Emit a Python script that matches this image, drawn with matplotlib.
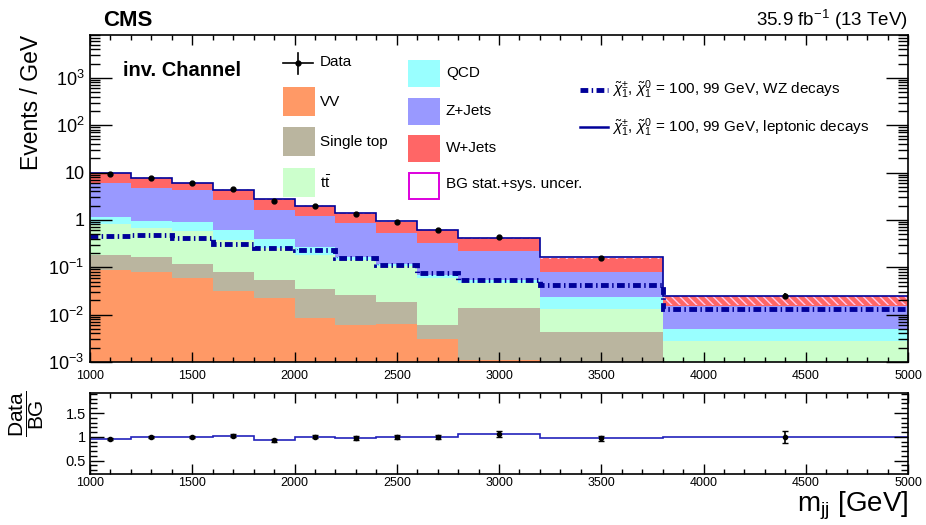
import numpy as np
import matplotlib
matplotlib.use("Agg")
import matplotlib.pyplot as plt
from matplotlib.patches import Rectangle
from matplotlib.lines import Line2D

plt.rcParams['font.family'] = ['Liberation Sans', 'DejaVu Sans']
plt.rcParams['mathtext.fontset'] = 'custom'
plt.rcParams['mathtext.rm'] = 'Liberation Sans'
plt.rcParams['mathtext.it'] = 'Liberation Sans:italic'
plt.rcParams['mathtext.bf'] = 'Liberation Sans:bold'
plt.rcParams['hatch.linewidth'] = 1.0

# ---- binning (m_jj, GeV) ----
bin_edges = [1000, 1200, 1400, 1600, 1800, 2000, 2200, 2400, 2600, 2800, 3200, 3800, 5000]

# ---- background processes, events / GeV ----
vv        = [0.088, 0.081, 0.059, 0.031, 0.022, 0.0084, 0.006, 0.0063, 0.003, 0.0011, 0.0008, 0.0001]
single_top = [0.092, 0.087, 0.061, 0.050, 0.032, 0.0256, 0.020, 0.0123, 0.003, 0.0126, 0.0035, 0.0002]
ttbar     = [0.63, 0.522, 0.45, 0.299, 0.196, 0.146, 0.117, 0.0884, 0.053, 0.0323, 0.0089, 0.0025]
qcd       = [0.34, 0.27, 0.33, 0.22, 0.15, 0.09, 0.025, 0.008, 0.010, 0.008, 0.0098, 0.0021]
zjets     = [4.85, 3.84, 3.40, 2.00, 1.18, 0.95, 0.682, 0.415, 0.251, 0.171, 0.058, 0.0106]
wjets     = [3.80, 2.90, 1.70, 1.70, 1.12, 0.78, 0.54, 0.39, 0.30, 0.185, 0.079, 0.0093]

# relative background uncertainty (down / up)
bg_unc_down = [0.02, 0.02, 0.02, 0.02, 0.02, 0.02, 0.02, 0.02, 0.02, 0.04, 0.05, 0.37]
bg_unc_up   = [0.02, 0.02, 0.02, 0.02, 0.02, 0.02, 0.02, 0.02, 0.02, 0.04, 0.05, 0.02]

# ---- data ----
data_x   = [1100, 1300, 1500, 1700, 1900, 2100, 2300, 2500, 2700, 3000, 3500, 4400]
data_y   = [9.41, 7.70, 6.00, 4.39, 2.51, 2.00, 1.35, 0.92, 0.62, 0.435, 0.155, 0.0248]
data_err = [0.19, 0.15, 0.15, 0.13, 0.08, 0.06, 0.05, 0.04, 0.03, 0.026, 0.008, 0.0032]

# ---- signals ----
signal_wz  = [0.45, 0.48, 0.41, 0.31, 0.25, 0.23, 0.16, 0.112, 0.075, 0.054, 0.042, 0.0132]
signal_lep = [0.05, 0.04, 0.03, 0.02, 0.012, 0.01, 0.007, 0.005, 0.003, 0.002, 0.0008, 0.0001]

process_names  = ['VV', 'Single top', r'$\mathrm{t\bar{t}}$', 'QCD', 'Z+Jets', 'W+Jets']
process_colors = ['#FF9966', '#BAB59F', '#CCFFCC', '#99FFFF', '#9999FF', '#FF6666']
processes = [vv, single_top, ttbar, qcd, zjets, wjets]

edges = np.array(bin_edges, dtype=float)
W, H = 926, 525
fig = plt.figure(figsize=(W / 100, H / 100), dpi=100)


def fx(px):
    return px / W


def fy(py):
    return 1 - py / H


ax = fig.add_axes([fx(90), fy(362), fx(908) - fx(90), fy(35) - fy(362)])
rax = fig.add_axes([fx(90), fy(474), fx(908) - fx(90), fy(393) - fy(474)])

navy = '#000099'

# stacked backgrounds
base = np.full(len(edges) - 1, 1e-5)
for vals, col in zip(processes, process_colors):
    top = base + np.array(vals)
    ax.stairs(top, edges, baseline=base, fill=True, color=col, lw=0)
    base = top
total = base

# background uncertainty band
ax.stairs(total * (1 + np.array(bg_unc_up)), edges,
          baseline=total * (1 - np.array(bg_unc_down)),
          fill=True, facecolor='none', edgecolor='#FFC8F0', hatch='\\\\\\\\', lw=0)

# signals
ax.stairs(total + np.array(signal_lep), edges, baseline=None, color=navy, lw=1.2)
ax.stairs(np.array(signal_wz), edges, baseline=None, color=navy, lw=3.5,
          linestyle=(0, (1.6, 0.7, 0.3, 0.7)))

# data
ax.errorbar(data_x, data_y, yerr=data_err, fmt='o', color='black', ms=3.5,
            elinewidth=1.2, capsize=0, zorder=5)

ax.set_yscale('log')
ax.set_xlim(1000, 5000)
ax.set_ylim(1e-3, 8000)

ytick_vals = [1e-3, 1e-2, 1e-1, 1, 10, 100, 1000]
ytick_labels = [r'$10^{-3}$', r'$10^{-2}$', r'$10^{-1}$', '1', '10', r'$10^{2}$', r'$10^{3}$']
ax.set_yticks(ytick_vals)
ax.set_yticklabels(ytick_labels)
ax.yaxis.set_minor_locator(matplotlib.ticker.LogLocator(base=10, subs=np.arange(2, 10), numticks=20))
ax.yaxis.set_minor_formatter(matplotlib.ticker.NullFormatter())

xticks = [1000, 1500, 2000, 2500, 3000, 3500, 4000, 4500, 5000]
for a in (ax, rax):
    a.set_xticks(xticks)
    a.set_xticklabels([str(t) for t in xticks])
    a.xaxis.set_minor_locator(matplotlib.ticker.MultipleLocator(100))
    a.tick_params(which='both', direction='in', top=True, right=True, width=1.0)
    a.tick_params(which='major', length=7)
    a.tick_params(which='minor', length=3.5)
    a.tick_params(axis='x', labelsize=9, pad=6)
    for s in a.spines.values():
        s.set_linewidth(1.2)

ax.tick_params(axis='y', which='major', length=16, labelsize=13, pad=4)
ax.tick_params(axis='y', which='minor', length=7)

ax.set_ylabel('Events / GeV', fontsize=16.5, loc='top', labelpad=4)

# ratio panel
ratio = np.array(data_y) / total
ratio_err = np.array(data_err) / total
rax.stairs(ratio, edges, baseline=None, color='#2222BB', lw=1.2)
rax.errorbar(data_x, ratio, yerr=ratio_err, fmt='o', color='black', ms=3,
             elinewidth=1.2, capsize=2, capthick=1.0, zorder=5)
rax.set_xlim(1000, 5000)
rax.set_ylim(0.22, 1.92)
rax.set_yticks([0.5, 1, 1.5])
rax.set_yticklabels(['0.5', '1', '1.5'])
rax.yaxis.set_minor_locator(matplotlib.ticker.MultipleLocator(0.1))
rax.tick_params(axis='y', which='major', length=10, labelsize=10.5, pad=3)
rax.tick_params(axis='y', which='minor', length=5)
rax.tick_params(axis='x', pad=2)

fig.text(fx(27), fy(414), r'$\dfrac{\mathrm{Data}}{\mathrm{BG}}$', fontsize=15,
         ha='center', va='center', rotation=90)
fig.text(fx(908), fy(506), r'm$_{\mathrm{jj}}$ [GeV]', fontsize=20, ha='right', va='center')

# header texts
fig.text(fx(103), fy(20), 'CMS', fontsize=16, fontweight='bold', ha='left', va='center')
fig.text(fx(908), fy(20), r'35.9 fb$^{\mathregular{-1}}$ (13 TeV)', fontsize=13.5,
         ha='right', va='center')
fig.text(fx(123), fy(70), 'inv. Channel', fontsize=14.5, fontweight='bold', ha='left', va='center')

# legend, left block
fig.add_artist(Line2D([fx(283), fx(313)], [fy(63), fy(63)], color='black', lw=1.2))
fig.add_artist(Line2D([fx(298), fx(298)], [fy(53), fy(74)], color='black', lw=1.2))
fig.add_artist(Line2D([fx(298)], [fy(63)], marker='o', ms=3.5, color='black'))
fig.text(fx(320), fy(62), 'Data', fontsize=11, ha='left', va='center')

left_rows = [102, 142, 183]
for (name, col), yc in zip(list(zip(process_names, process_colors))[:3], left_rows):
    fig.add_artist(Rectangle((fx(283), fy(yc + 14)), fx(32), 29 / H, facecolor=col,
                             edgecolor='none', transform=fig.transFigure))
    fig.text(fx(320), fy(yc), name, fontsize=11, ha='left', va='center')

right_rows = [73, 111, 148]
for (name, col), yc in zip(list(zip(process_names, process_colors))[3:], right_rows):
    fig.add_artist(Rectangle((fx(408), fy(yc + 14)), fx(32), 27 / H, facecolor=col,
                             edgecolor='none', transform=fig.transFigure))
    fig.text(fx(446), fy(yc), name, fontsize=11, ha='left', va='center')
fig.add_artist(Rectangle((fx(409), fy(199)), fx(30), 26 / H, facecolor='none',
                         edgecolor='#DD00DD', lw=1.4, transform=fig.transFigure))
fig.text(fx(446), fy(184), 'BG stat.+sys. uncer.', fontsize=11, ha='left', va='center')

# legend, signals
chi_txt = r'$\tilde{\chi}^{\pm}_{1}$, $\tilde{\chi}^{0}_{1}$ = 100, 99 GeV, '
fig.add_artist(Line2D([fx(580), fx(608)], [fy(90), fy(90)], color=navy, lw=3.5,
                      linestyle=(0, (1.6, 0.7, 0.3, 0.7))))
fig.text(fx(612), fy(90), chi_txt + 'WZ decays', fontsize=11, ha='left', va='center')
fig.add_artist(Line2D([fx(580), fx(608)], [fy(127), fy(127)], color=navy, lw=1.8))
fig.text(fx(612), fy(128), chi_txt + 'leptonic decays', fontsize=11, ha='left', va='center')

fig.savefig('out.png', dpi=100)
